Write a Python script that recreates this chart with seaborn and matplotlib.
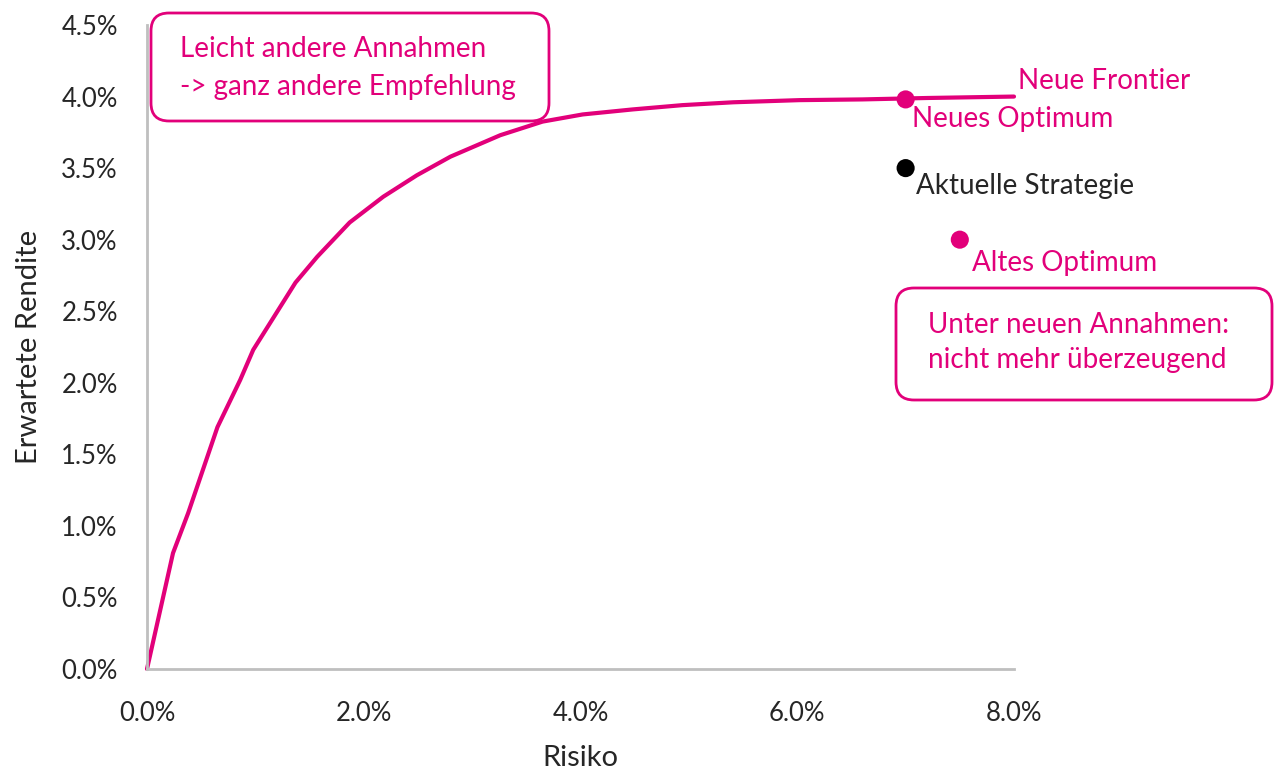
import matplotlib
matplotlib.use("Agg")
import matplotlib.pyplot as plt
import matplotlib.transforms as mtransforms
from matplotlib.patches import FancyBboxPatch
from matplotlib.ticker import FuncFormatter
import pandas as pd
import seaborn as sns

# Efficient frontier (new assumptions), values in percent
risk = [0.0, 0.24, 0.38, 0.65, 0.86, 0.98, 1.37, 1.57, 1.87, 2.18, 2.49, 2.80,
        3.26, 3.65, 4.02, 4.48, 4.94, 5.41, 6.02, 6.6, 7.2, 8.0]
ret = [0.0, 0.81, 1.09, 1.69, 2.02, 2.23, 2.70, 2.88, 3.12, 3.30, 3.45, 3.58,
       3.73, 3.825, 3.875, 3.91, 3.94, 3.96, 3.975, 3.98, 3.99, 4.00]

# Single portfolios
point_names = ['Neues Optimum', 'Aktuelle Strategie', 'Altes Optimum']
point_risk = [7.0, 7.0, 7.5]
point_ret = [3.98, 3.5, 3.0]

x_ticks = [0, 2, 4, 6, 8]
y_ticks = [0, 0.5, 1.0, 1.5, 2.0, 2.5, 3.0, 3.5, 4.0, 4.5]

PINK = '#E2007A'
DARK = '#262626'
GREY = '#BFBFBF'
FS = 20

sns.set_style('white')
plt.rcParams['font.family'] = ['Lato', 'DejaVu Sans']

fig = plt.figure(figsize=(12.75, 7.71), dpi=100)
ax = fig.add_axes([147 / 1275, 102 / 771, 867 / 1275, 644 / 771])

frontier = pd.DataFrame({'Risiko': risk, 'Rendite': ret})
sns.lineplot(data=frontier, x='Risiko', y='Rendite', color=PINK, linewidth=3,
             ax=ax, clip_on=False)

points = pd.DataFrame({'name': point_names, 'Risiko': point_risk, 'Rendite': point_ret})
sns.scatterplot(data=points, x='Risiko', y='Rendite', hue='name',
                palette={'Neues Optimum': PINK, 'Aktuelle Strategie': 'black',
                         'Altes Optimum': PINK},
                s=170, edgecolor='none', legend=False, ax=ax, clip_on=False, zorder=5)

ax.set_xlim(0, 8)
ax.set_ylim(0, 4.5)
ax.set_xticks(x_ticks)
ax.set_yticks(y_ticks)
ax.xaxis.set_major_formatter(FuncFormatter(lambda v, p: f'{v:.1f}%'))
ax.yaxis.set_major_formatter(FuncFormatter(lambda v, p: f'{v:.1f}%'))
ax.tick_params(axis='both', length=0, labelsize=18.5, colors=DARK)
ax.tick_params(axis='x', pad=23)
ax.tick_params(axis='y', pad=21)

sns.despine(ax=ax, top=True, right=True)
for side in ['left', 'bottom']:
    ax.spines[side].set_color(GREY)
    ax.spines[side].set_linewidth(2)

ax.set_xlabel('Risiko', fontsize=21, color=DARK, labelpad=14)
ax.set_ylabel('Erwartete Rendite', fontsize=21, color=DARK, labelpad=14)

# point labels
ax.text(8.04, 4.11, 'Neue Frontier', color=PINK, fontsize=FS, va='center', ha='left')
ax.text(7.06, 3.84, 'Neues Optimum', color=PINK, fontsize=FS, va='center', ha='left')
ax.text(7.10, 3.375, 'Aktuelle Strategie', color=DARK, fontsize=FS, va='center', ha='left')
ax.text(7.61, 2.84, 'Altes Optimum', color=PINK, fontsize=FS, va='center', ha='left')

# rounded callout boxes (pixel coordinates, origin bottom left)
px = mtransforms.IdentityTransform()
for (x0, y0, w, h) in [(151, 771 - 121, 398, 108), (896, 771 - 400, 376, 112)]:
    box = FancyBboxPatch((x0, y0), w, h, boxstyle='round,pad=0,rounding_size=18',
                         linewidth=2, edgecolor=PINK, facecolor='white',
                         transform=px, zorder=10)
    fig.patches.append(box)

fig.text(180 / 1275, 1 - 49 / 771, 'Leicht andere Annahmen', color=PINK,
         fontsize=FS, va='center', ha='left', zorder=11)
fig.text(180 / 1275, 1 - 87 / 771, '-> ganz andere Empfehlung', color=PINK,
         fontsize=FS, va='center', ha='left', zorder=11)
fig.text(928 / 1275, 1 - 325 / 771, 'Unter neuen Annahmen:', color=PINK,
         fontsize=FS, va='center', ha='left', zorder=11)
fig.text(928 / 1275, 1 - 360 / 771, 'nicht mehr überzeugend', color=PINK,
         fontsize=FS, va='center', ha='left', zorder=11)

fig.savefig('out.png', dpi=100)
